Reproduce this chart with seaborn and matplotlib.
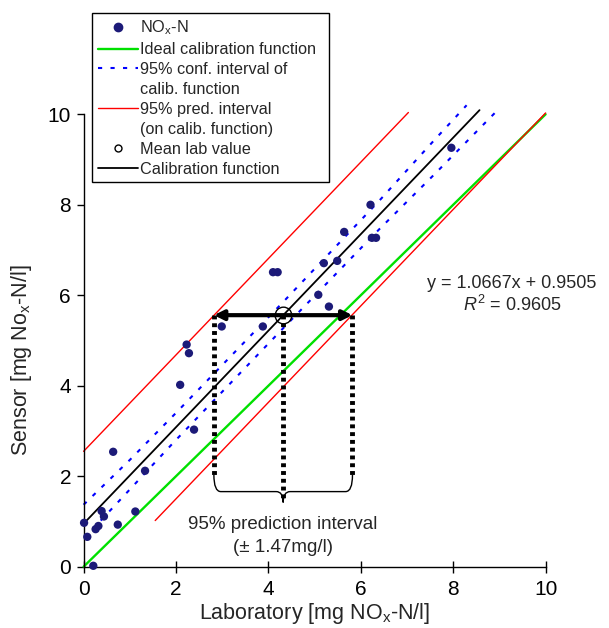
import numpy as np
import pandas as pd
import matplotlib
matplotlib.use("Agg")
import matplotlib.pyplot as plt
from matplotlib.lines import Line2D
from matplotlib.path import Path
from matplotlib.patches import PathPatch
import seaborn as sns

# ---- data ----
lab = [0.01, 0.08, 0.21, 0.26, 0.32, 0.39, 0.44, 0.64, 0.74, 1.12, 1.33,
       2.09, 2.23, 2.28, 2.39, 2.99, 3.88, 4.10, 4.20, 5.08, 5.20, 5.31,
       5.49, 5.64, 6.21, 6.24, 6.33, 7.96]
sensor = [0.97, 0.66, 0.02, 0.83, 0.90, 1.23, 1.11, 2.54, 0.93, 1.22, 2.12,
          4.02, 4.91, 4.72, 3.03, 5.31, 5.31, 6.51, 6.51, 6.01, 6.71, 5.75,
          6.76, 7.40, 8.00, 7.27, 7.27, 9.26]
slope = 1.0667
intercept = 0.9505
r2 = 0.9605
cal_x = [0.0, 8.57]
ideal_x = [0.0, 10.0]
ideal_y = [0.0, 10.0]
conf_up_x = [0.0, 1.0, 2.0, 4.3, 6.4, 7.6, 8.29]
conf_up_y = [1.37, 2.36, 3.40, 5.83, 8.09, 9.44, 10.20]
conf_lo_x = [0.37, 0.72, 1.96, 4.3, 6.4, 7.6, 8.94]
conf_lo_y = [1.02, 1.40, 2.76, 5.25, 7.46, 8.68, 10.07]
pred_up_x = [0.0, 7.03]
pred_up_y = [2.55, 10.04]
pred_lo_x = [1.55, 10.0]
pred_lo_y = [1.02, 10.03]
mean_lab_x = 4.32
mean_lab_y = 5.56
pi_half = 1.5
x_ticks = [0, 2, 4, 6, 8, 10]
y_ticks = [0, 2, 4, 6, 8, 10]

sns.set_style("ticks")
plt.rcParams['font.family'] = ['Liberation Sans', 'DejaVu Sans']
plt.rcParams['mathtext.fontset'] = 'custom'
plt.rcParams['mathtext.rm'] = 'Liberation Sans'
plt.rcParams['mathtext.it'] = 'Liberation Sans:italic'

fig = plt.figure(figsize=(6.09, 6.28), dpi=100)
ax = fig.add_axes([83.6/609, 1-566.7/628, 462/609, 452.4/628])

GREEN = "#00e000"; RED = "#ff0000"; BLUE = "#0000ff"; NAVY = "#1c1a78"
DASH = (0, (2, 4))

def line(xs, ys, **kw):
    d = pd.DataFrame({"x": xs, "y": ys})
    sns.lineplot(data=d, x="x", y="y", ax=ax, estimator=None, sort=False,
                 clip_on=False, **kw)

line(ideal_x, ideal_y, color=GREEN, lw=1.7)
line(pred_up_x, pred_up_y, color=RED, lw=1.0)
line(pred_lo_x, pred_lo_y, color=RED, lw=1.0)
line(conf_up_x, conf_up_y, color=BLUE, lw=1.5, linestyle=DASH)
line(conf_lo_x, conf_lo_y, color=BLUE, lw=1.5, linestyle=DASH)
line(cal_x, [intercept + slope*v for v in cal_x], color="black", lw=1.3)

df = pd.DataFrame({"lab": lab, "sensor": sensor})
sns.scatterplot(data=df, x="lab", y="sensor", color=NAVY, s=36,
                edgecolor="none", ax=ax, clip_on=False, zorder=5)

# mean lab value
ax.plot([mean_lab_x], [mean_lab_y], marker="o", mfc="none", mec="black",
        ms=12, mew=1.0, zorder=6, clip_on=False)

lo, hi = mean_lab_x - pi_half, mean_lab_x + pi_half
ax.annotate("", xy=(lo, mean_lab_y), xytext=(hi, mean_lab_y),
            arrowprops=dict(arrowstyle="<|-|>", lw=3, color="black",
                            mutation_scale=14, shrinkA=0, shrinkB=0), zorder=7)
ybot = 2.03; ymid = 1.66; ytip = 1.42
for xv, yb in ((lo, ybot), (mean_lab_x, ytip+0.05), (hi, ybot)):
    ax.plot([xv, xv], [mean_lab_y, yb], color="black", lw=3.5,
            linestyle=(0, (0.8, 0.8)), solid_capstyle="butt", zorder=7)

r = 0.15
verts = [(lo, ybot), (lo, ymid), (lo+r, ymid), (mean_lab_x-r, ymid),
         (mean_lab_x, ymid), (mean_lab_x, ytip), (mean_lab_x, ymid),
         (mean_lab_x+r, ymid), (hi-r, ymid), (hi, ymid), (hi, ybot)]
codes = [Path.MOVETO, Path.CURVE3, Path.CURVE3, Path.LINETO, Path.CURVE3,
         Path.CURVE3, Path.CURVE3, Path.CURVE3, Path.LINETO, Path.CURVE3, Path.CURVE3]
ax.add_patch(PathPatch(Path(verts, codes), fc="none", ec="black", lw=1.0, zorder=7))

ax.text(mean_lab_x, 0.94, "95% prediction interval", ha="center", va="center",
        fontsize=13.5)
ax.text(mean_lab_x, 0.43, "(\u00b1 1.47mg/l)", ha="center", va="center",
        fontsize=13.5)

ax.text(9.27, 6.27, f"y = {slope:.4f}x + {intercept:.4f}", ha="center",
        va="center", fontsize=13, clip_on=False)
ax.text(9.27, 5.78, f"$R^2$ = {r2:.4f}", ha="center", va="center",
        fontsize=13, clip_on=False)

ax.set_xlim(0, 10); ax.set_ylim(0, 10)
ax.set_xticks(x_ticks); ax.set_yticks(y_ticks)
ax.tick_params(axis="y", direction="out", length=5, width=1, labelsize=15, pad=4, colors="black")
ax.tick_params(axis="x", direction="inout", length=9, width=1, labelsize=15, pad=5, colors="black")
for sp in ("top", "right"):
    ax.spines[sp].set_visible(False)
for sp in ("left", "bottom"):
    ax.spines[sp].set_linewidth(1.0)
    ax.spines[sp].set_color("black")
ax.set_xlabel(r"Laboratory [mg NO$_\mathrm{x}$-N/l]", fontsize=15.5)
ax.set_ylabel(r"Sensor [mg No$_\mathrm{x}$-N/l]", fontsize=15.5)
ax.xaxis.set_label_coords(0.5, -0.075)
ax.yaxis.set_label_coords(-0.107, 0.457)

blank = Line2D([], [], ls="none")
handles = [
    Line2D([], [], ls="none", marker="o", color=NAVY, ms=6),
    Line2D([], [], color=GREEN, lw=1.7),
    Line2D([], [], color=BLUE, lw=1.5, ls=DASH),
    blank,
    Line2D([], [], color=RED, lw=1.0),
    blank,
    Line2D([], [], ls="none", marker="o", mfc="none", mec="black", ms=5),
    Line2D([], [], color="black", lw=1.3),
]
labels = [r"NO$_\mathrm{x}$-N", "Ideal calibration function",
          "95% conf. interval of", "calib. function",
          "95% pred. interval", "(on calib. function)",
          "Mean lab value", "Calibration function"]
leg = fig.legend(handles, labels, loc="upper left",
                 bbox_to_anchor=(92/609, 1-183/628, 237/609, 170/628),
                 mode="expand", fontsize=11.7,
                 frameon=True, fancybox=False, framealpha=1, edgecolor="black",
                 handlelength=2.5, handletextpad=0.1, labelspacing=0.3,
                 borderpad=0.35, borderaxespad=0)
leg.get_frame().set_linewidth(1.0)

fig.savefig("out.png", dpi=100)
